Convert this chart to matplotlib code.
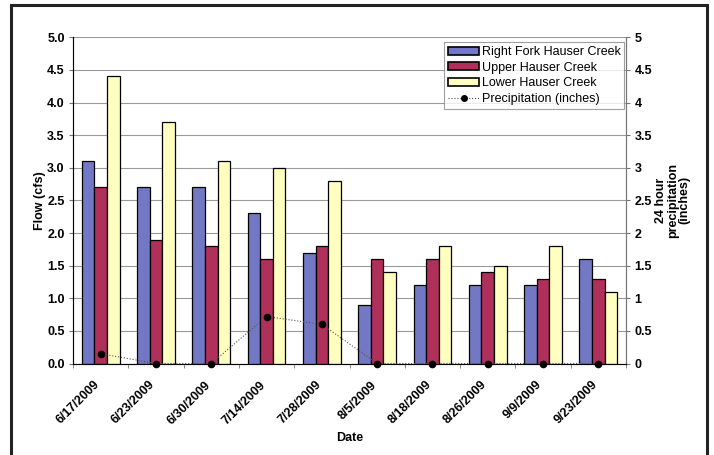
import matplotlib
matplotlib.use("Agg")
import matplotlib.pyplot as plt
import matplotlib.transforms as mtransforms
import numpy as np
from matplotlib.patches import Rectangle
from matplotlib.lines import Line2D

dates = ["6/17/2009", "6/23/2009", "6/30/2009", "7/14/2009", "7/28/2009",
         "8/5/2009", "8/18/2009", "8/26/2009", "9/9/2009", "9/23/2009"]
right_fork = [3.1, 2.7, 2.7, 2.3, 1.7, 0.9, 1.2, 1.2, 1.2, 1.6]
upper = [2.7, 1.9, 1.8, 1.6, 1.8, 1.6, 1.6, 1.4, 1.3, 1.3]
lower = [4.4, 3.7, 3.1, 3.0, 2.8, 1.4, 1.8, 1.5, 1.8, 1.1]
precip = [0.15, 0.0, 0.0, 0.72, 0.6, 0.0, 0.0, 0.0, 0.0, 0.0]

plt.rcParams["font.family"] = ["Liberation Sans", "DejaVu Sans"]

fig = plt.figure(figsize=(7.14, 4.55), dpi=100)
ax = fig.add_axes([73 / 714, 1 - 363.5 / 455, (626 - 73) / 714, (363.5 - 37.3) / 455])

x = np.arange(len(dates))
w = 0.228
c_blue = "#7378C4"
c_red = "#B0305C"
c_yel = "#FFFFC0"
ax.bar(x - w, right_fork, w, color=c_blue, edgecolor="black", linewidth=0.9,
       label="Right Fork Hauser Creek", zorder=3)
ax.bar(x, upper, w, color=c_red, edgecolor="black", linewidth=0.9,
       label="Upper Hauser Creek", zorder=3)
ax.bar(x + w, lower, w, color=c_yel, edgecolor="black", linewidth=0.9,
       label="Lower Hauser Creek", zorder=3)

ax.set_xlim(-0.5, len(dates) - 0.5)
ax.set_ylim(0, 5)
ax.set_yticks(np.arange(0, 5.01, 0.5))
ax.set_yticklabels([f"{v:.1f}" for v in np.arange(0, 5.01, 0.5)],
                   fontsize=9, fontweight="bold")
ax.yaxis.grid(True, color="#9a9a9a", linewidth=0.8, zorder=0)
ax.set_axisbelow(True)

ax.set_xticks(x)
ax.set_xticklabels(dates, rotation=45, ha="right", rotation_mode="anchor",
                   fontsize=9, fontweight="bold")
ax.tick_params(axis="x", length=0, pad=11)
shift = mtransforms.ScaledTranslation(-7 / 100, 0, fig.dpi_scale_trans)
for lbl in ax.get_xticklabels():
    lbl.set_transform(lbl.get_transform() + shift)
ax.set_xticks(np.arange(-0.5, len(dates), 1.0), minor=True)
ax.tick_params(axis="x", which="minor", length=3, color="#777777")
ax.tick_params(axis="y", length=3, color="#777777", pad=3)

ax.spines["top"].set_visible(False)
ax.spines["left"].set_color("#777777")
ax.spines["bottom"].set_color("#777777")
ax.spines["right"].set_color("#777777")

ax.set_ylabel("Flow (cfs)", fontsize=9, fontweight="bold", labelpad=1)
ax.set_xlabel("Date", fontsize=9, fontweight="bold", labelpad=4)

ax2 = ax.twinx()
ax2.set_ylim(0, 5)
ax2.plot(x, precip, linestyle=":", color="#555555", linewidth=0.8,
         marker="o", markersize=4.5, markerfacecolor="black",
         markeredgecolor="black", zorder=5, clip_on=False)
ax2.set_yticks(np.arange(0, 5.01, 0.5))
ax2.set_yticklabels(["0", "0.5", "1", "1.5", "2", "2.5", "3", "3.5", "4", "4.5", "5"],
                    fontsize=9, fontweight="bold")
ax2.tick_params(axis="y", length=3, color="#777777", pad=3)
ax2.spines["top"].set_visible(False)
ax2.spines["right"].set_color("#777777")
ax2.set_ylabel("24 hour\nprecipitation\n(inches)", fontsize=9, fontweight="bold",
               labelpad=2, linespacing=1.0)

handles = [
    Rectangle((0, 0), 1, 1, facecolor=c_blue, edgecolor="black", linewidth=1.2),
    Rectangle((0, 0), 1, 1, facecolor=c_red, edgecolor="black", linewidth=1.2),
    Rectangle((0, 0), 1, 1, facecolor=c_yel, edgecolor="black", linewidth=1.2),
    Line2D([], [], linestyle=":", color="#555555", linewidth=0.8, marker="o",
           markersize=4, markerfacecolor="black", markeredgecolor="black"),
]
labels = ["Right Fork Hauser Creek", "Upper Hauser Creek", "Lower Hauser Creek",
          "Precipitation (inches)"]
leg = ax2.legend(handles, labels, loc="upper right", bbox_to_anchor=(0.997, 0.985),
                 fontsize=9, frameon=True, fancybox=False, borderpad=0.3,
                 handlelength=2.5, handleheight=0.6, handletextpad=0.2,
                 labelspacing=0.3, borderaxespad=0)
leg.get_frame().set_edgecolor("#888888")
leg.get_frame().set_linewidth(0.8)

# outer border around the whole chart
fig.patches.append(Rectangle((11 / 714, -0.02), (707 - 11) / 714, 1 - 5 / 455 + 0.02,
                             transform=fig.transFigure, fill=False,
                             edgecolor="#222222", linewidth=2.2))

fig.savefig("out.png", dpi=100)
